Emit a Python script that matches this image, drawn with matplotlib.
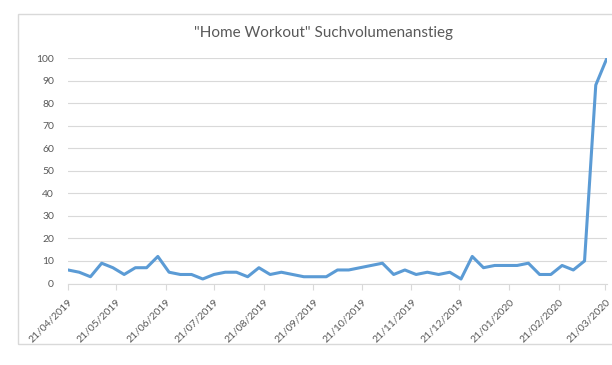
import matplotlib
matplotlib.use("Agg")
from matplotlib import pyplot as plt
from matplotlib.patches import Rectangle
import matplotlib.dates as mdates
import pandas as pd

# weekly search interest, Google Trends style (0-100)
start_date = "2019-04-21"
values = [6, 5, 3, 9, 7, 4, 7, 7, 12, 5,
          4, 4, 2, 4, 5, 5, 3, 7, 4, 5,
          4, 3, 3, 3, 6, 6, 7, 8, 9, 4,
          6, 4, 5, 4, 5, 2, 12, 7, 8, 8,
          8, 9, 4, 4, 8, 6, 10, 88, 100]
tick_dates = ["2019-04-21", "2019-05-21", "2019-06-21", "2019-07-21",
              "2019-08-21", "2019-09-21", "2019-10-21", "2019-11-21",
              "2019-12-21", "2020-01-21", "2020-02-21", "2020-03-21"]
yticks = [0, 10, 20, 30, 40, 50, 60, 70, 80, 90, 100]
title = '"Home Workout" Suchvolumenanstieg'

dates = pd.date_range(start_date, periods=len(values), freq="7D")
ticks = pd.to_datetime(tick_dates)

plt.rcParams["font.family"] = ["Lato", "DejaVu Sans"]
grey = "#595959"

W, H = 612, 365
fig = plt.figure(figsize=(W / 100, H / 100), dpi=100)
fig.patches.append(Rectangle((18 / W, 1 - 344 / H), 1, (344 - 14) / H,
                             transform=fig.transFigure, fill=False,
                             edgecolor="#d9d9d9", linewidth=1))

ax = fig.add_axes([68 / W, 1 - 283.5 / H, (607 - 68) / W, (283.5 - 58) / H])
ax.plot(dates, values, color="#5b9bd5", linewidth=2.2, solid_joinstyle="round")

ax.set_xlim(pd.Timestamp(start_date), dates[-1])
ax.set_ylim(0, 100)
ax.set_yticks(yticks)
ax.set_xticks(ticks)
ax.xaxis.set_major_formatter(mdates.DateFormatter("%d/%m/%Y"))
for lab in ax.get_xticklabels():
    lab.set_rotation(45)
    lab.set_ha("right")
    lab.set_va("top")
    lab.set_rotation_mode("anchor")

ax.grid(axis="y", color="#d9d9d9", linewidth=0.8)
ax.set_axisbelow(True)
for side in ["top", "right", "left"]:
    ax.spines[side].set_visible(False)
ax.spines["bottom"].set_color("#d9d9d9")
ax.tick_params(axis="y", length=0, pad=10, labelsize=7.5, labelcolor=grey)
ax.tick_params(axis="x", length=4, color="#d9d9d9", pad=6, labelsize=7.5,
               labelcolor=grey)

fig.text(324 / W, 1 - 33 / H, title, ha="center", va="center",
         fontsize=11, color=grey)

fig.savefig("out.png", dpi=100)
plt.close(fig)
